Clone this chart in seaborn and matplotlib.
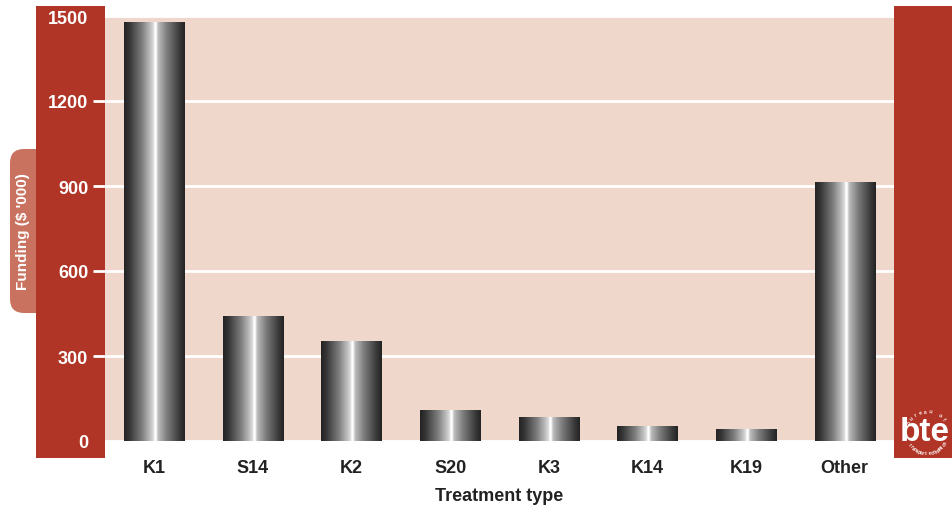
import numpy as np
import pandas as pd
import matplotlib
matplotlib.use("Agg")
import matplotlib.pyplot as plt
import seaborn as sns
from matplotlib.patches import Rectangle, FancyBboxPatch

treatments = ["K1", "S14", "K2", "S20", "K3", "K14", "K19", "Other"]
funding = [1480, 442, 354, 110, 85, 54, 43, 914]
y_ticks = [0, 300, 600, 900, 1200, 1500]

RED = "#b03526"
PINK = "#f0d7cc"
TAB = "#c97260"
DARK = "#222222"

sns.set_theme(style="white")
plt.rcParams["font.family"] = ["Liberation Sans", "DejaVu Sans"]
plt.rcParams["font.weight"] = "bold"

fig = plt.figure(figsize=(9.52, 5.06), dpi=100)

# background layer in pixel coordinates
bg = fig.add_axes([0, 0, 1, 1], zorder=0)
bg.set_xlim(0, 952)
bg.set_ylim(506, 0)
bg.axis("off")
bg.add_patch(FancyBboxPatch((10, 150), 40, 164, boxstyle="round,pad=0,rounding_size=14",
                            facecolor=TAB, edgecolor="none"))
bg.add_patch(Rectangle((36, 7), 69, 452, facecolor=RED, edgecolor="none"))
bg.add_patch(Rectangle((894, 7), 58, 452, facecolor=RED, edgecolor="none"))
bg.text(23, 232, "Funding ($ '000)", rotation=90, ha="center", va="center",
        color="white", fontsize=11, fontweight="bold")

# bte logo: letters plus a ring of small text
bg.text(900, 433, "bte", ha="left", va="center", color="white",
        fontsize=24, fontweight="bold", clip_on=False)
cx, cy, r = 927, 433, 21
for txt, a0, a1, flip in [("bureau of", 150, 40, False),
                          ("transport economics", 215, 330, True)]:
    angs = np.linspace(a0, a1, len(txt))
    for ch, a in zip(txt, angs):
        t = np.radians(a)
        rot = a - 90 if not flip else a + 90
        bg.text(cx + r * np.cos(t), cy - r * np.sin(t), ch, color="white",
                fontsize=3.5, ha="center", va="center", rotation=rot)

ax = fig.add_axes([105 / 952, 64 / 506, 789 / 952, 425 / 506], zorder=1)
ax.set_facecolor(PINK)

df = pd.DataFrame({"treatment": treatments, "funding": funding})
sns.barplot(data=df, x="treatment", y="funding", color=DARK, width=0.61,
            ax=ax, zorder=3, edgecolor="none", linewidth=0)

# metallic gradient across each bar
pos = [0.0, 0.08, 0.3, 0.45, 0.49, 0.505, 0.525, 0.56, 0.7, 0.9, 1.0]
lum = [0.14, 0.2, 0.5, 0.78, 0.88, 1.0, 1.0, 0.74, 0.5, 0.24, 0.14]
xs = np.linspace(0, 1, 256)
grad = np.interp(xs, pos, lum)[None, :]
for p in ax.patches:
    x0, w, h = p.get_x(), p.get_width(), p.get_height()
    im = ax.imshow(grad, extent=(x0, x0 + w, 0, h), cmap="gray", vmin=0, vmax=1,
                   aspect="auto", zorder=4, interpolation="bilinear")
    im.set_clip_path(p)
    p.set_facecolor("none")

ax.set_xlim(-0.5, 7.5)
ax.set_ylim(0, 1500)
ax.set_yticks(y_ticks)
ax.yaxis.grid(True, color="white", linewidth=2)
ax.xaxis.grid(False)
ax.set_axisbelow(True)
for s in ax.spines.values():
    s.set_visible(False)

ax.tick_params(axis="y", colors="white", length=9, width=2, pad=3,
               labelsize=13, direction="out", left=True)
ax.tick_params(axis="x", length=0, pad=13, labelsize=13, labelcolor=DARK)
yt = ax.yaxis.get_major_ticks()
yt[0].tick1line.set_visible(False)
yt[-1].tick1line.set_visible(False)
for lab in ax.get_xticklabels() + ax.get_yticklabels():
    lab.set_fontweight("bold")

ax.set_ylabel("")
ax.set_xlabel("Treatment type", fontsize=13, fontweight="bold", color=DARK, labelpad=8)

fig.savefig("out.png", dpi=100)
